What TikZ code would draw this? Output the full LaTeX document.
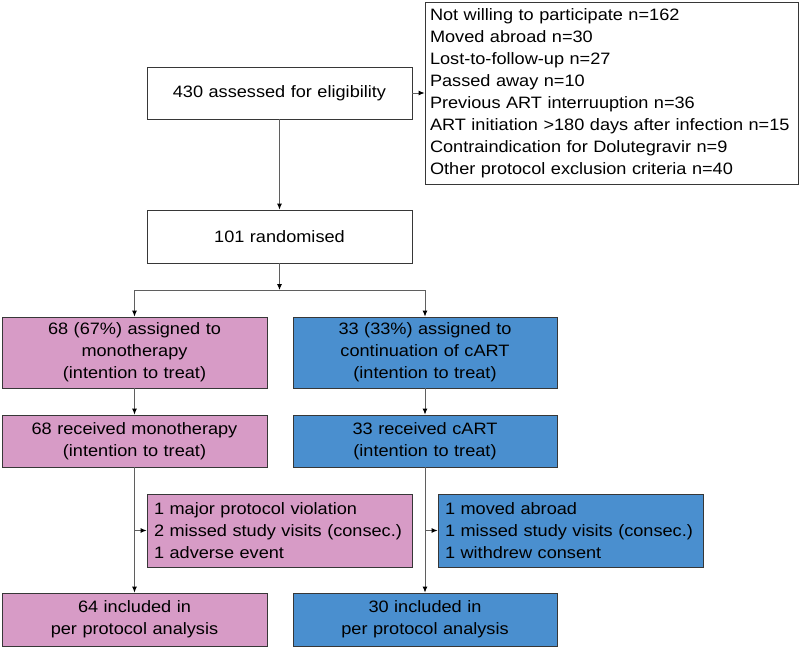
\documentclass[tikz,border=0pt]{standalone}
\usepackage{fontspec}
\setmainfont{Liberation Sans}[FakeStretch=1.1]
\usetikzlibrary{arrows.meta}
\definecolor{monopink}{RGB}{215,155,198}
\definecolor{cartblue}{RGB}{74,143,207}
\definecolor{edgegray}{RGB}{55,55,55}
\definecolor{linegray}{RGB}{95,95,95}
\begin{document}
\begin{tikzpicture}[x=1pt,y=-1pt,
  box/.style={draw=edgegray, line width=0.8pt, inner xsep=7pt, inner ysep=0pt,
    text width=251pt, align=center, font=\fontsize{16.5}{22}\selectfont},
  listbox/.style={box, align=left},
  mono/.style={fill=monopink},
  cart/.style={fill=cartblue},
  link/.style={draw=linegray, line width=0.9pt, -{Latex[length=6pt,width=5pt,color=black]}}]
\useasboundingbox (0,0) rectangle (800,648);
\node[box, minimum height=52pt] (elig) at (279.5,93) {430 assessed for eligibility};
\node[listbox, inner xsep=5pt, text width=363pt, minimum height=182pt] (excl) at (611.5,93) {Not willing to participate n=162\\
Moved abroad n=30\\
Lost-to-follow-up n=27\\
Passed away n=10\\
Previous ART interruuption n=36\\
ART initiation >180 days after infection n=15\\
Contraindication for Dolutegravir n=9\\
Other protocol exclusion criteria n=40};
\node[box, minimum height=53pt] (rand) at (279.5,236.5) {101 randomised};
\coordinate (split) at (279.5,290);
\node[box, mono, minimum height=71pt] (assignM) at (134.5,352.5) {68 (67\%) assigned to\\ monotherapy\\ (intention to treat)};
\node[box, cart, text width=250pt, minimum height=71pt] (assignC) at (425,352.5) {33 (33\%) assigned to\\ continuation of cART\\ (intention to treat)};
\node[box, mono, minimum height=52pt] (recM) at (134.5,441) {68 received monotherapy\\ (intention to treat)};
\node[box, cart, text width=250pt, minimum height=52pt] (recC) at (425,441) {33 received cART\\ (intention to treat)};
\node[listbox, mono, minimum height=73pt] (lossM) at (279.5,530.5) {1 major protocol violation\\
2 missed study visits (consec.)\\
1 adverse event};
\node[listbox, cart, minimum height=73pt] (lossC) at (570.5,530.5) {1 moved abroad\\
1 missed study visits (consec.)\\
1 withdrew consent};
\node[box, mono, minimum height=53pt] (ppM) at (134.5,619.5) {64 included in\\ per protocol analysis};
\node[box, cart, text width=250pt, minimum height=53pt] (ppC) at (425,619.5) {30 included in\\ per protocol analysis};
\coordinate (tapM) at (recM.south |- lossM.west);
\coordinate (tapC) at (recC.south |- lossC.west);
% screening
\path[link] (elig) -- (excl);
\path[link] (elig) -- (rand);
\path[link] (rand) -- (split);
\path[link] (split) -| (assignM);
\path[link] (split) -| (assignC);
% arms
\path[link] (assignM) -- (recM);
\path[link] (assignC) -- (recC);
\path[link] (recM) -- (ppM);
\path[link] (recC) -- (ppC);
\path[link] (tapM) -- (lossM);
\path[link] (tapC) -- (lossC);
\end{tikzpicture}
\end{document}
